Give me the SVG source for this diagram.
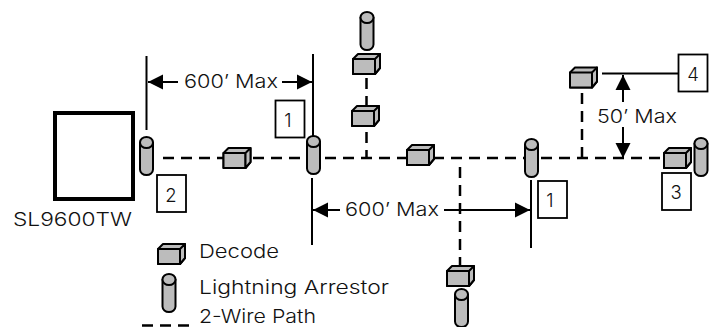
<svg xmlns="http://www.w3.org/2000/svg" width="714" height="327" viewBox="0 0 714 327">
<style>
text{font-family:"Inter","Liberation Sans",sans-serif;font-size:18.500px;font-weight:300;fill:#111}
.s{stroke:#000;stroke-width:2;fill:none}
.d{stroke:#000;stroke-width:2.500;fill:none;stroke-dasharray:11 7}
.b{fill:#fff;stroke:#000;stroke-width:1.800}
.g{fill:#bcbcbc;stroke:#000;stroke-width:2;stroke-linejoin:round}
.n{text-anchor:middle}
</style>
<defs>
<marker id="a" markerUnits="userSpaceOnUse" markerWidth="16" markerHeight="16" refX="15" refY="8" orient="auto-start-reverse"><path d="M0 0.500L15 8L0 15.500Z" fill="#000"/></marker>
<g id="dec"><path class="g" d="M0 5L5 0H27V14L22 20H0Z"/><path class="g" d="M0 5H22V20H0Z"/><path class="g" d="M22 5L27 0V14L22 20Z" fill="#999"/></g>
<g id="arr"><path class="g" d="M0.500 6.500V33.500A6.500 5.500 0 0 0 13.500 33.500V6.500Z"/><ellipse class="g" cx="7" cy="6.500" rx="6.500" ry="5.500"/></g>
</defs>
<g id="connectors">
<path class="d" d="M163 158H660"/>
<path class="d" d="M366.500 78V108M366.500 132V158"/>
<path class="d" d="M582 93V158"/>
<path class="d" d="M460 167V270"/>
<path class="d" d="M142 325.500H190"/>
<path class="s" d="M146.500 56V130M313 54V136M312 178V245M531 180V248"/>
<path class="s" d="M602 73.500H678"/>
<path class="s" marker-end="url(#a)" d="M178 82H148"/>
<path class="s" marker-end="url(#a)" d="M282 82H312"/>
<path class="s" marker-end="url(#a)" d="M340 210H313"/>
<path class="s" marker-end="url(#a)" d="M444 210H530"/>
<path class="s" marker-end="url(#a)" d="M623 102V75"/>
<path class="s" marker-end="url(#a)" d="M623 127V158"/>
</g>
<g id="sl9600tw"><rect x="55" y="113" width="78" height="86" fill="#fff" stroke="#000" stroke-width="4"/><text x="13" y="226" textLength="119" lengthAdjust="spacingAndGlyphs">SL9600TW</text></g>
<g id="arrestor-1"><use href="#arr" x="139.500" y="136"/></g>
<g id="arrestor-2"><use href="#arr" x="306.500" y="135"/></g>
<g id="arrestor-3"><use href="#arr" x="360" y="11"/></g>
<g id="arrestor-4"><use href="#arr" x="524.500" y="138"/></g>
<g id="arrestor-5"><use href="#arr" x="694" y="137"/></g>
<g id="arrestor-6"><use href="#arr" x="454.500" y="288"/></g>
<g id="decode-1"><use href="#dec" x="223.500" y="148"/></g>
<g id="decode-2"><use href="#dec" x="353" y="54"/></g>
<g id="decode-3"><use href="#dec" x="352" y="106"/></g>
<g id="decode-4"><use href="#dec" x="407" y="145"/></g>
<g id="decode-5"><use href="#dec" x="570" y="67.500"/></g>
<g id="decode-6"><use href="#dec" x="664" y="148"/></g>
<g id="decode-7"><use href="#dec" x="447" y="266"/></g>
<g id="label-1a"><rect class="b" x="275.500" y="100.500" width="29" height="37"/><text class="n" x="288" y="127">1</text></g>
<g id="label-2"><rect class="b" x="157" y="175" width="29" height="37"/><text class="n" x="171" y="202">2</text></g>
<g id="label-1b"><rect class="b" x="538" y="181" width="29" height="37"/><text class="n" x="550" y="207">1</text></g>
<g id="label-3"><rect class="b" x="662" y="173" width="29" height="37"/><text class="n" x="676" y="199">3</text></g>
<g id="label-4"><rect class="b" x="678.500" y="54.500" width="29" height="37"/><text class="n" x="693" y="81">4</text></g>
<g id="dimensions">
<text x="184" y="88" textLength="94" lengthAdjust="spacingAndGlyphs">600’ Max</text>
<text x="345" y="216" textLength="94" lengthAdjust="spacingAndGlyphs">600’ Max</text>
<text x="597" y="123" textLength="80" lengthAdjust="spacingAndGlyphs">50’ Max</text>
</g>
<g id="legend">
<use href="#dec" x="158" y="244"/>
<use href="#arr" x="162" y="273"/>
<text x="199" y="258" textLength="80" lengthAdjust="spacingAndGlyphs">Decode</text>
<text x="199" y="294" textLength="190" lengthAdjust="spacingAndGlyphs">Lightning Arrestor</text>
<text x="199" y="322.500" textLength="117" lengthAdjust="spacingAndGlyphs">2-Wire Path</text>
</g>
</svg>
